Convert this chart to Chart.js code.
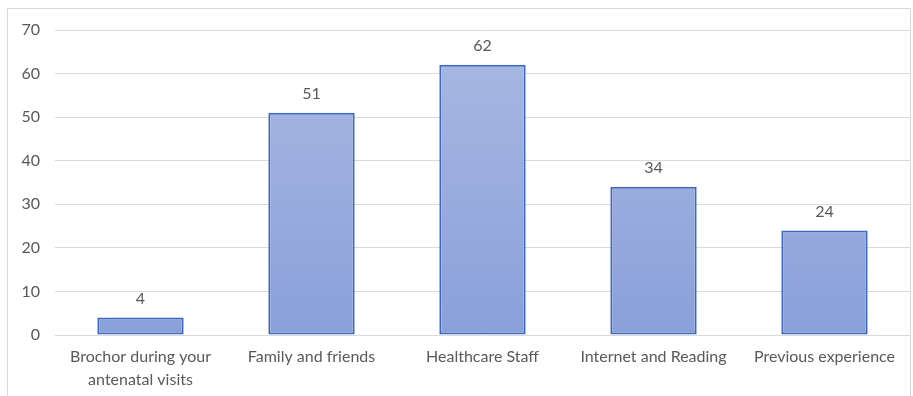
<!DOCTYPE html>
<html>
<head>
<meta charset="utf-8">
<script src="https://cdn.jsdelivr.net/npm/chart.js@4"></script>
<style>
html,body{margin:0;padding:0;background:#fff;}
#wrap{position:absolute;left:0;top:0;width:913px;height:396px;}
</style>
</head>
<body>
<div id="wrap"><canvas id="c" width="913" height="396"></canvas></div>
<script>
const categories = [["Brochor during your","antenatal visits"],"Family and friends","Healthcare Staff","Internet and Reading","Previous experience"];
const values = [4, 51, 62, 34, 24];
const yTicks = [0, 10, 20, 30, 40, 50, 60, 70];

const FONT = "Lato, 'Open Sans', sans-serif";
const TXT = "#595959";

const frame = {
  id: 'frame',
  beforeDraw(chart) {
    const ctx = chart.ctx;
    ctx.save();
    ctx.fillStyle = '#fff';
    ctx.fillRect(0, 0, chart.width, chart.height);
    ctx.strokeStyle = '#d9d9d9';
    ctx.lineWidth = 1;
    ctx.strokeRect(7.5, 8.5, 903, 400);
    ctx.restore();
  }
};

const labels = {
  id: 'labels',
  afterDatasetsDraw(chart) {
    const ctx = chart.ctx;
    const meta = chart.getDatasetMeta(0);
    ctx.save();
    ctx.fillStyle = TXT;
    ctx.font = "16px " + FONT;
    ctx.textAlign = 'center';
    ctx.textBaseline = 'middle';
    meta.data.forEach((bar, i) => {
      ctx.fillText(String(values[i]), bar.x, bar.y - 19);
    });
    ctx.restore();
  }
};

new Chart(document.getElementById('c'), {
  type: 'bar',
  data: {
    labels: categories,
    datasets: [{
      data: values,
      backgroundColor(context) {
        const ch = context.chart;
        const a = ch.chartArea;
        if (!a) return '#9aaddd';
        const g = ch.ctx.createLinearGradient(0, a.top, 0, a.bottom);
        g.addColorStop(0, '#aab9e3');
        g.addColorStop(1, '#8aa0d9');
        return g;
      },
      borderColor: '#3f68c0',
      borderWidth: 2,
      borderSkipped: false,
      categoryPercentage: 1,
      barPercentage: 0.505
    }]
  },
  options: {
    responsive: false,
    animation: false,
    events: [],
    layout: { padding: { left: 0, right: 3, top: 30, bottom: 0 } },
    plugins: { legend: { display: false }, tooltip: { enabled: false } },
    scales: {
      x: {
        grid: { display: false, drawTicks: false },
        border: { display: false },
        ticks: { color: TXT, font: { family: FONT, size: 16, lineHeight: 1.4 }, padding: 11, maxRotation: 0, autoSkip: false },
        afterFit(s) { s.height = 61; }
      },
      y: {
        min: 0, max: 70,
        afterBuildTicks(s) { s.ticks = yTicks.map(v => ({ value: v })); },
        grid: { color: '#d9d9d9', drawTicks: false, lineWidth: 1 },
        border: { display: false },
        ticks: { color: TXT, font: { family: FONT, size: 16 }, padding: 15 },
        afterFit(s) { s.width = 55; }
      }
    }
  },
  plugins: [frame, labels]
});
</script>
</body>
</html>
